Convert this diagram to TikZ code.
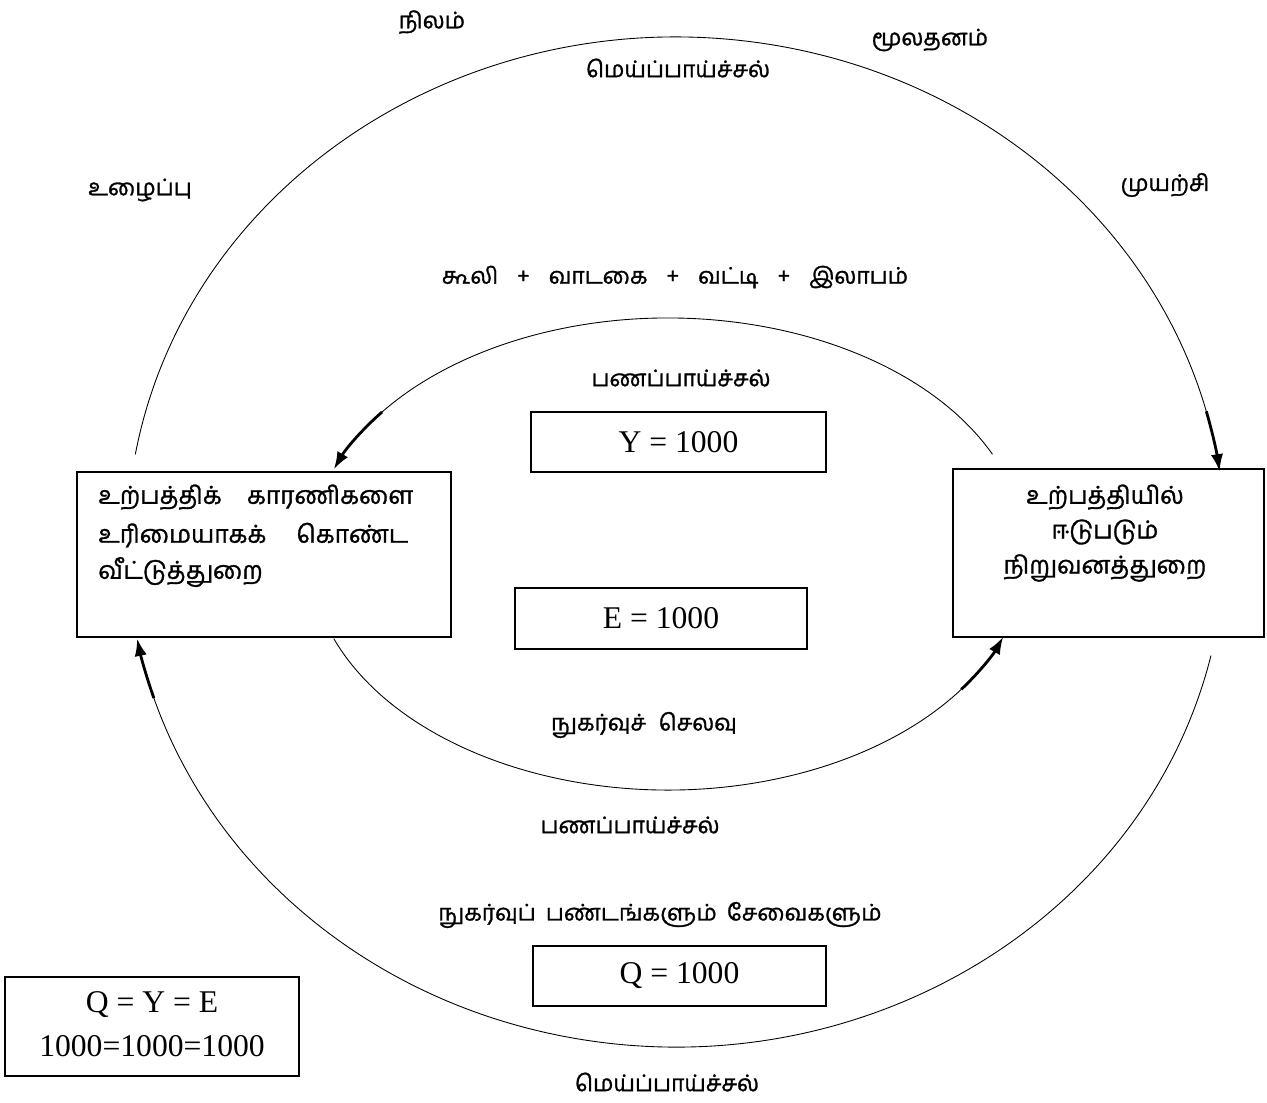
\documentclass[tikz,border=0pt]{standalone}
\usepackage{fontspec}
\setmainfont{Liberation Serif}
\newfontfamily\tamil[Script=Tamil,FakeBold=1.2]{Hind Madurai}
\usetikzlibrary{arrows.meta,calc}
\newcommand{\plusgap}{\hspace{0.38cm}+\hspace{0.38cm}}
\begin{document}
\begin{tikzpicture}[x=0.02cm,y=-0.02cm,
  flow/.style={line width=0.5pt},
  flowtip/.style={line width=1.6pt,-{Latex[length=10pt,width=7pt]}},
  box/.style={draw,line width=0.9pt,inner sep=0pt},
  eq/.style={font=\fontsize{18}{22}\selectfont},
  ta/.style={font=\tamil\fontsize{13}{18}\selectfont,inner sep=0pt},
  tabox/.style={font=\tamil\fontsize{14}{18}\selectfont,inner sep=0pt}]
\useasboundingbox (0,0) rectangle (1267,1102);

% boxes
\node[box,minimum width=7.48cm,minimum height=3.3cm] (hh) at (264,554.5) {};
\node[box,minimum width=6.22cm,minimum height=3.36cm] (fm) at (1108.5,553) {};
\node[box,eq,minimum width=5.9cm,minimum height=1.2cm] (ybox) at (678.5,442) {Y = 1000};
\node[box,eq,minimum width=5.84cm,minimum height=1.22cm] (ebox) at (661,618.5) {E = 1000};
\node[box,eq,minimum width=5.86cm,minimum height=1.2cm] (qbox) at (679.5,976) {Q = 1000};
\node[box,minimum width=5.88cm,minimum height=1.98cm] (qye) at (152,1026.5) {};

% box texts
\node[tabox,anchor=west] (hh1) at (98,497) {\makebox[6.3cm][s]{உற்பத்திக் காரணிகளை}};
\node[tabox,anchor=west] (hh2) at (98,535) {\makebox[6.2cm][s]{உரிமையாகக் கொண்ட}};
\node[tabox,anchor=west] (hh3) at (98,572) {வீட்டுத்துறை};
\node[tabox] (fm1) at (1105,497) {உற்பத்தியில்};
\node[tabox] (fm2) at (1105,532) {ஈடுபடும்};
\node[tabox] (fm3) at (1105,568) {நிறுவனத்துறை};
\node[eq] (qye1) at (152,1005) {Q = Y = E};
\node[eq] (qye2) at (152,1046) {1000=1000=1000};

% labels
\node[ta] (lnd) at (432,22) {நிலம்};
\node[ta] (cap) at (930,40) {மூலதனம்};
\node[ta] (rt) at (678,68) {மெய்ப்பாய்ச்சல்};
\node[ta] (lab) at (140,190) {உழைப்பு};
\node[ta] (ent) at (1165,185) {முயற்சி};
\node[ta] (inc) at (675,277) {கூலி\plusgap வாடகை\plusgap வட்டி\plusgap இலாபம்};
\node[ta] (mt) at (681,378) {பணப்பாய்ச்சல்};
\node[ta] (ce) at (644,725) {நுகர்வுச்\hspace{0.25cm}செலவு};
\node[ta] (mb) at (630,825) {பணப்பாய்ச்சல்};
\node[ta] (gs) at (660,915) {நுகர்வுப்\hspace{0.2cm}பண்டங்களும்\hspace{0.2cm}சேவைகளும்};
\node[ta] (rb) at (667,1082) {மெய்ப்பாய்ச்சல்};

% outer top: household -> firms
\draw[flow] ($(676,542)+(190:549 and 505)$) coordinate (oTs)
  arc[start angle=190,end angle=345,x radius=549,y radius=505] coordinate (oTm);
\draw[flowtip] (oTm) arc[start angle=345,end angle=352,x radius=549,y radius=505] coordinate (oTe);

% outer bottom: firms -> household
\draw[flow] ($(676,542)+(13:549 and 505)$) coordinate (oBs)
  arc[start angle=13,end angle=162,x radius=549,y radius=505] coordinate (oBm);
\draw[flowtip] (oBm) arc[start angle=162,end angle=169,x radius=549,y radius=505] coordinate (oBe);

% inner top: firms -> household
\draw[flow] ($(668,554)+(335:358 and 236)$) coordinate (iTs)
  arc[start angle=335,end angle=217,x radius=358,y radius=236] coordinate (iTm);
\draw[flowtip] (iTm) arc[start angle=217,end angle=201,x radius=358,y radius=236] coordinate (iTe);

% inner bottom: household -> firms
\draw[flow] ($(668,554)+(159:358 and 236)$) coordinate (iBs)
  arc[start angle=159,end angle=35,x radius=358,y radius=236] coordinate (iBm);
\draw[flowtip] (iBm) arc[start angle=35,end angle=20.5,x radius=358,y radius=236] coordinate (iBe);
\end{tikzpicture}
\end{document}
